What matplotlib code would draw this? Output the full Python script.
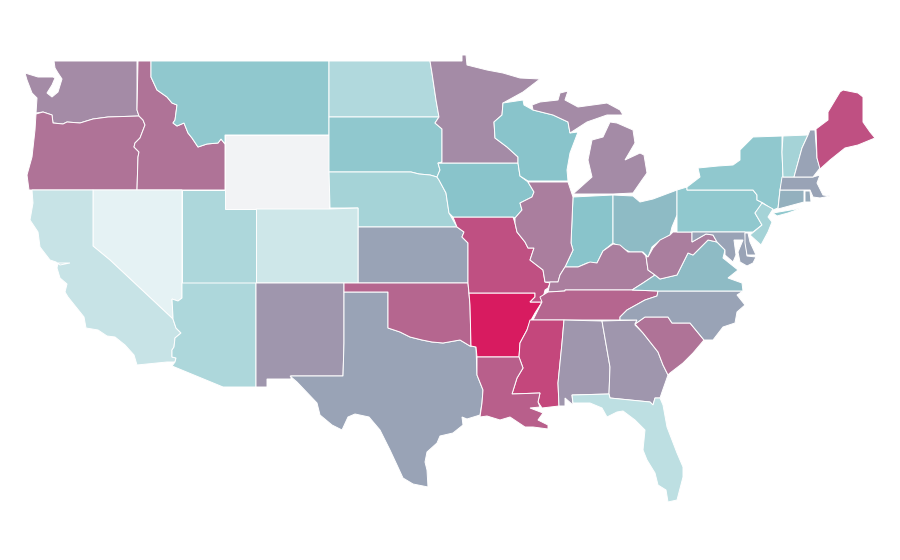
import matplotlib
matplotlib.use('Agg')
import matplotlib.pyplot as plt
from matplotlib.colors import LinearSegmentedColormap, Normalize

nan = float('nan')

# state outlines in pixel units
WA = [(54,61),(137,61),(137,110),(139,116),(108,117),(93,119),(80,123),(67,122),(63,124),(53,123),(52,115),(43,112),(36,113),(37,98),(32,93),(27,80),(25,73),(38,77),(53,77),(55,78),(52,85),(47,93),(52,97),(58,92),(62,79),(58,73),(55,68)]
OR = [(36,114),(43,112),(52,115),(53,123),(63,124),(67,122),(80,123),(93,119),(108,117),(139,116),(143,120),(145,125),(140,138),(135,143),(134,147),(139,152),(138,157),(137,190),(29,190),(27,175),(32,157),(35,130)]
ID = [(138,61),(151,61),(151,77),(157,90),(167,97),(172,103),(177,105),(175,120),(173,123),(177,126),(184,123),(188,133),(192,138),(198,147),(207,144),(218,143),(221,139),(225,144),(225,190),(137,190),(138,157),(139,152),(134,147),(135,143),(140,138),(145,125),(143,120),(139,116),(137,110)]
MT = [(151,61),(329,61),(329,135),(225,135),(225,144),(221,139),(218,143),(207,144),(198,147),(192,138),(188,133),(184,123),(177,126),(173,123),(175,120),(177,105),(172,103),(167,97),(157,90),(151,77)]
WY = [(225,135),(329,135),(329,209),(225,209)]
ND = [(329,61),(430,61),(432,73),(436,100),(439,117),(329,117)]
SD = [(329,117),(439,117),(435,123),(442,129),(442,162),(438,163),(440,170),(437,177),(430,175),(419,174),(411,172),(329,172)]
NE = [(329,172),(411,172),(419,174),(430,175),(437,177),(439,180),(446,193),(449,213),(457,227),(358,227),(358,208),(330,208)]
KS = [(358,227),(457,227),(464,232),(462,237),(468,243),(468,283),(358,283)]
CO = [(256,209),(329,209),(358,208),(358,283),(256,283)]
UT = [(182,190),(225,190),(225,209),(256,209),(256,283),(182,283)]
NV = [(93,190),(182,190),(182,298),(178,301),(172,299),(173,317),(173,319),(110,260),(93,246)]
CA = [(32,190),(93,190),(93,246),(110,260),(173,319),(176,328),(181,333),(175,338),(174,347),(172,350),(172,357),(176,358),(175,362),(167,362),(137,365),(134,355),(125,345),(115,337),(107,336),(98,330),(86,328),(84,317),(68,297),(65,292),(67,284),(60,278),(57,268),(58,263),(70,263),(60,265),(56,262),(50,260),(40,247),(38,232),(30,220),(33,203)]
AZ = [(182,283),(256,283),(256,387),(223,387),(172,366),(175,362),(176,358),(172,357),(172,350),(174,347),(175,338),(181,333),(176,328),(173,319),(173,317),(172,299),(178,301),(182,298)]
NM = [(256,283),(344,283),(344,343),(343,376),(291,376),(291,379),(267,379),(267,387),(256,387)]
TX = [(344,292),(388,292),(388,328),(400,332),(410,337),(422,340),(432,342),(443,343),(460,340),(470,346),(476,347),(477,375),(483,390),(482,403),(480,415),(467,419),(462,417),(463,425),(453,433),(440,436),(437,443),(427,452),(425,462),(427,470),(428,487),(413,484),(403,478),(397,465),(390,450),(380,430),(369,417),(355,414),(348,417),(342,430),(332,425),(320,415),(317,403),(297,382),(290,376),(343,376),(344,343)]
OK = [(344,283),(468,283),(470,305),(471,346),(470,346),(460,340),(443,343),(432,342),(422,340),(410,337),(400,332),(388,328),(388,292),(344,292)]
AR = [(469,293),(535,293),(535,297),(530,302),(542,302),(535,313),(530,322),(527,330),(520,343),(519,357),(477,357),(476,347),(471,346),(470,305)]
MO = [(453,217),(513,217),(515,223),(517,232),(525,242),(528,248),(534,248),(530,260),(543,270),(545,282),(550,283),(548,288),(545,290),(542,302),(530,302),(535,297),(535,293),(469,293),(468,283),(468,243),(462,237),(464,232),(457,227)]
IA = [(439,163),(518,163),(520,176),(528,182),(534,192),(532,197),(520,203),(522,210),(515,218),(513,217),(453,217),(449,213),(446,193),(439,180),(437,177),(440,170),(438,163)]
MN = [(430,61),(462,61),(462,55),(466,55),(467,65),(487,70),(503,73),(520,78),(540,79),(523,92),(503,103),(502,115),(494,122),(495,138),(507,147),(518,157),(518,163),(439,163),(442,162),(442,129),(435,123),(439,117),(436,100),(432,73)]
WI = [(503,103),(523,100),(524,105),(533,110),(553,115),(568,122),(570,133),(578,132),(570,153),(567,170),(568,181),(528,181),(520,176),(518,163),(518,157),(507,147),(495,138),(494,122),(502,115)]
MI_UP = [(533,110),(532,105),(540,102),(558,100),(560,93),(568,91),(565,100),(578,107),(600,104),(607,103),(620,110),(623,115),(613,115),(607,115),(587,122),(570,133),(568,122),(553,115)]
MI_LP = [(610,122),(617,123),(633,130),(635,143),(625,160),(640,153),(644,155),(647,173),(642,180),(633,193),(613,194),(573,194),(592,177),(588,160),(592,140),(603,137)]
IN = [(573,197),(613,195),(613,243),(603,251),(597,263),(587,263),(578,267),(565,267),(573,250),(571,243)]
IL = [(528,182),(568,182),(573,197),(571,243),(573,250),(565,267),(560,275),(558,282),(550,282),(545,282),(543,270),(530,260),(534,248),(528,248),(525,242),(517,232),(515,223),(515,218),(522,210),(520,203),(532,197),(534,192)]
OH = [(613,195),(633,196),(640,202),(653,199),(677,190),(677,215),(672,227),(670,235),(658,242),(652,247),(648,257),(643,252),(630,252),(620,247),(613,243)]
KY = [(565,267),(578,267),(590,262),(597,263),(603,251),(613,244),(620,245),(628,252),(642,252),(646,256),(648,270),(655,275),(643,283),(632,290),(565,290),(565,291),(548,292),(550,282),(558,282),(560,275)]
TN = [(540,297),(548,292),(565,291),(565,290),(632,290),(658,291),(657,296),(645,300),(627,310),(620,317),(620,320),(533,320),(542,302)]
MS = [(530,320),(564,320),(562,343),(558,383),(559,406),(542,408),(538,402),(540,393),(512,394),(517,378),(523,368),(519,357),(520,343),(527,330)]
LA = [(477,357),(519,357),(523,368),(517,378),(512,394),(540,393),(538,402),(540,407),(530,408),(543,413),(538,420),(548,425),(548,429),(533,427),(525,427),(510,417),(500,420),(487,416),(480,417),(482,403),(483,390),(477,375)]
AL = [(564,320),(602,321),(610,367),(609,394),(572,395),(573,405),(565,398),(565,406),(559,406),(558,383),(562,343)]
GA = [(602,321),(637,320),(635,325),(643,333),(658,352),(663,365),(668,375),(662,392),(660,398),(655,398),(653,405),(650,402),(610,398),(609,394),(610,367)]
FL = [(572,395),(609,394),(610,398),(650,402),(653,405),(655,398),(660,398),(663,405),(667,427),(677,453),(683,467),(683,477),(677,500),(668,502),(666,490),(658,485),(655,473),(647,460),(643,450),(645,430),(635,420),(623,411),(617,412),(607,417),(602,408),(590,403),(573,403)]
SC = [(635,324),(645,317),(668,317),(672,323),(690,323),(704,340),(693,353),(683,363),(670,373),(668,375),(663,365),(658,352),(643,333)]
NC = [(620,320),(620,317),(627,310),(645,300),(657,296),(658,291),(743,291),(737,295),(745,305),(737,312),(735,323),(723,327),(713,340),(704,340),(690,323),(672,323),(668,317),(645,317),(635,324),(637,320)]
VA = [(632,290),(643,283),(655,275),(660,279),(677,275),(688,253),(693,255),(708,240),(717,242),(725,250),(723,258),(738,270),(728,278),(742,283),(743,291),(658,291)]
WV = [(646,256),(648,257),(653,248),(660,240),(670,235),(673,232),(677,232),(692,232),(692,242),(706,234),(713,235),(717,242),(708,240),(693,255),(688,253),(677,275),(660,279),(655,275),(648,270)]
PA = [(677,190),(687,187),(687,190),(753,190),(757,195),(757,200),(763,203),(755,213),(762,225),(753,232),(677,232)]
NY = [(687,187),(700,177),(698,168),(718,166),(733,165),(740,160),(740,150),(753,137),(782,136),(782,152),(783,177),(780,190),(778,208),(773,210),(763,203),(757,200),(757,195),(753,190),(687,190)]
NY_LI = [(773,213),(802,208),(788,213),(777,216)]
NJ = [(762,203),(773,209),(768,217),(772,222),(768,232),(761,245),(750,235),(762,225),(755,213)]
CT = [(780,190),(804,190),(804,202),(778,209)]
RI = [(805,191),(810,191),(811,202),(805,202)]
MA = [(782,177),(813,177),(820,175),(817,183),(823,195),(830,196),(820,198),(813,197),(810,190),(780,190)]
VT = [(783,136),(808,135),(802,148),(794,177),(783,177),(782,152)]
NH = [(810,130),(815,130),(817,158),(820,168),(813,177),(794,177),(802,148),(808,135)]
ME = [(816,129),(828,120),(828,112),(840,92),(843,90),(858,93),(863,97),(863,122),(870,132),(875,138),(858,145),(845,148),(830,160),(820,169),(817,158)]
MD = [(692,232),(745,232),(747,256),(756,257),(753,263),(747,266),(740,262),(738,252),(743,240),(734,240),(736,255),(733,262),(725,255),(725,250),(717,242),(713,235),(706,234),(692,242)]
DE = [(745,233),(748,233),(750,242),(756,255),(747,255),(745,243)]

state_shapes = [WA, OR, ID, MT, WY, ND, SD, NE, KS, CO, UT, NV, CA, AZ, NM, TX, OK, AR, MO, IA, MN, WI,
                MI_UP, MI_LP, IN, IL, OH, KY, TN, MS, LA, AL, GA, FL, SC, NC, VA, WV, PA, NY, NY_LI,
                NJ, CT, RI, MA, VT, NH, ME, MD, DE]

# value of each shape, same order as state_shapes (Wyoming has no data)
state_values = [67, 74, 74, 47, nan, 33, 47, 38, 60, 21, 35, 11, 24, 35, 64, 60, 78, 100, 84, 50, 67, 50,
                67, 67, 50, 71, 53, 71, 78, 87, 80, 64, 64, 28, 74, 60, 53, 71, 47, 47, 47,
                38, 56, 58, 60, 38, 60, 84, 60, 60]

cmap = LinearSegmentedColormap.from_list('teal_pink', ['#ffffff', '#89c5cb', '#d81b60'])
cmap.set_bad('#f2f3f5')
norm = Normalize(0, 100)

fig = plt.figure(figsize=(9, 5.6), dpi=100)
ax = fig.add_axes([0, 0, 1, 1])

for shape, value in zip(state_shapes, state_values):
    xs = [p[0] for p in shape]
    ys = [p[1] for p in shape]
    ax.fill(xs, ys, facecolor=cmap(norm(value)), edgecolor='white', linewidth=0.7)

ax.set_xlim(0, 900)
ax.set_ylim(560, 0)
ax.axis('off')

fig.savefig('out.png', dpi=100)
